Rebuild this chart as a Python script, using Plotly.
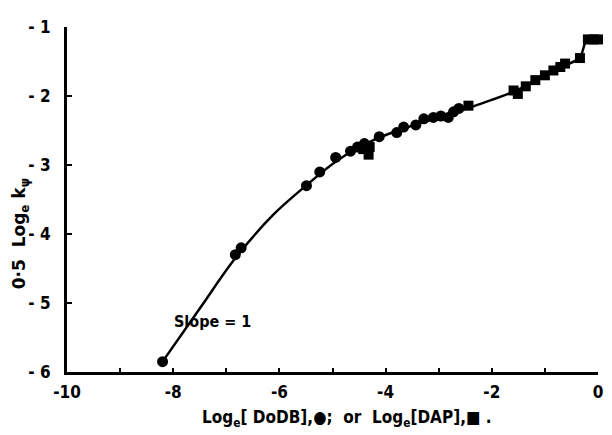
import plotly.graph_objects as go

# DoDB data (circles)
dodb_x = [-8.2, -6.83, -6.72, -5.49, -5.24, -4.94, -4.66, -4.53, -4.40, -4.12, -3.79,
          -3.66, -3.43, -3.28, -3.10, -2.96, -2.82, -2.72, -2.62]
dodb_y = [-5.85, -4.30, -4.20, -3.30, -3.10, -2.89, -2.80, -2.74, -2.69, -2.59, -2.53,
          -2.45, -2.42, -2.33, -2.31, -2.29, -2.31, -2.23, -2.18]

# DAP data (squares)
dap_x = [-4.42, -4.32, -4.30, -2.44, -1.59, -1.51, -1.36, -1.18, -1.00, -0.84, -0.71,
         -0.62, -0.34, -0.19, -0.08, 0.0]
dap_y = [-2.77, -2.85, -2.74, -2.14, -1.92, -1.97, -1.86, -1.77, -1.70, -1.63, -1.58,
         -1.53, -1.45, -1.18, -1.18, -1.18]

# Drawn curve
curve_x = [-8.2, -7.5, -6.8, -6.1, -5.5, -4.9, -4.2, -3.5, -2.8, -2.2, -1.6, -1.0, -0.6, -0.35, -0.2, 0.0]
curve_y = [-5.85, -5.08, -4.32, -3.71, -3.30, -2.93, -2.63, -2.43, -2.27, -2.11, -1.94, -1.71, -1.55, -1.45, -1.18, -1.18]

x_ticks = [-10, -8, -6, -4, -2, 0]
x_ticktext = ["-10", "-8", "-6", "-4", "-2", "0"]
y_ticks = [-6, -5, -4, -3, -2, -1]
y_ticktext = ["- 6", "- 5", "- 4", "- 3", "- 2", "- 1"]

FONT = "DejaVu Sans Condensed, DejaVu Sans, sans-serif"
FONT_WIDE = "DejaVu Sans, sans-serif"

fig = go.Figure()
fig.add_trace(go.Scatter(x=curve_x, y=curve_y, mode="lines",
                         line=dict(color="black", width=2.5, shape="spline", smoothing=1.0),
                         hoverinfo="skip", showlegend=False, cliponaxis=False))
fig.add_trace(go.Scatter(x=dodb_x, y=dodb_y, mode="markers",
                         marker=dict(symbol="circle", size=11, color="black"),
                         showlegend=False, cliponaxis=False))
fig.add_trace(go.Scatter(x=dap_x, y=dap_y, mode="markers",
                         marker=dict(symbol="square", size=10, color="black"),
                         showlegend=False, cliponaxis=False))

fig.update_layout(
    width=604, height=427,
    margin=dict(l=59, r=9, t=11, b=63),
    plot_bgcolor="white", paper_bgcolor="white",
    font=dict(family=FONT, size=15, color="black", weight="bold"),
    xaxis=dict(range=[-10, 0], showgrid=False, zeroline=False,
               showline=True, linecolor="black", linewidth=3,
               tickmode="array", tickvals=x_ticks, ticktext=x_ticktext,
               ticks="inside", ticklen=4, tickwidth=2, tickcolor="black",
               ticklabelstandoff=3,
               minor=dict(dtick=1, ticks="inside", ticklen=4, tickwidth=2, tickcolor="black"),
               tickfont=dict(family=FONT, size=17, color="black", weight="bold")),
    yaxis=dict(range=[-6, -1], showgrid=False, zeroline=False,
               showline=True, linecolor="black", linewidth=3,
               tickmode="array", tickvals=y_ticks, ticktext=y_ticktext,
               ticks="inside", ticklen=5, tickwidth=2, tickcolor="black",
               ticklabelstandoff=10,
               tickfont=dict(family=FONT, size=17, color="black", weight="bold")),
    annotations=[
        dict(text="Slope = 1", x=-8.03, y=-5.27, xref="x", yref="y",
             xanchor="left", yanchor="middle", showarrow=False,
             font=dict(family=FONT, size=16, color="black", weight="bold")),
        dict(text="Log<sub>e</sub>[ DoDB],●;  or  Log<sub>e</sub>[DAP],■ .",
             x=0.528, y=-0.135, xref="paper", yref="paper",
             xanchor="center", yanchor="middle", showarrow=False,
             font=dict(family=FONT, size=17, color="black", weight="bold")),
        dict(text="0·5  Log<sub>e</sub> k<sub>ψ</sub>",
             x=-0.088, y=0.40, xref="paper", yref="paper", textangle=-90,
             xanchor="center", yanchor="middle", showarrow=False,
             font=dict(family=FONT_WIDE, size=17, color="black", weight="bold")),
    ],
)

fig.write_html("out.html")
